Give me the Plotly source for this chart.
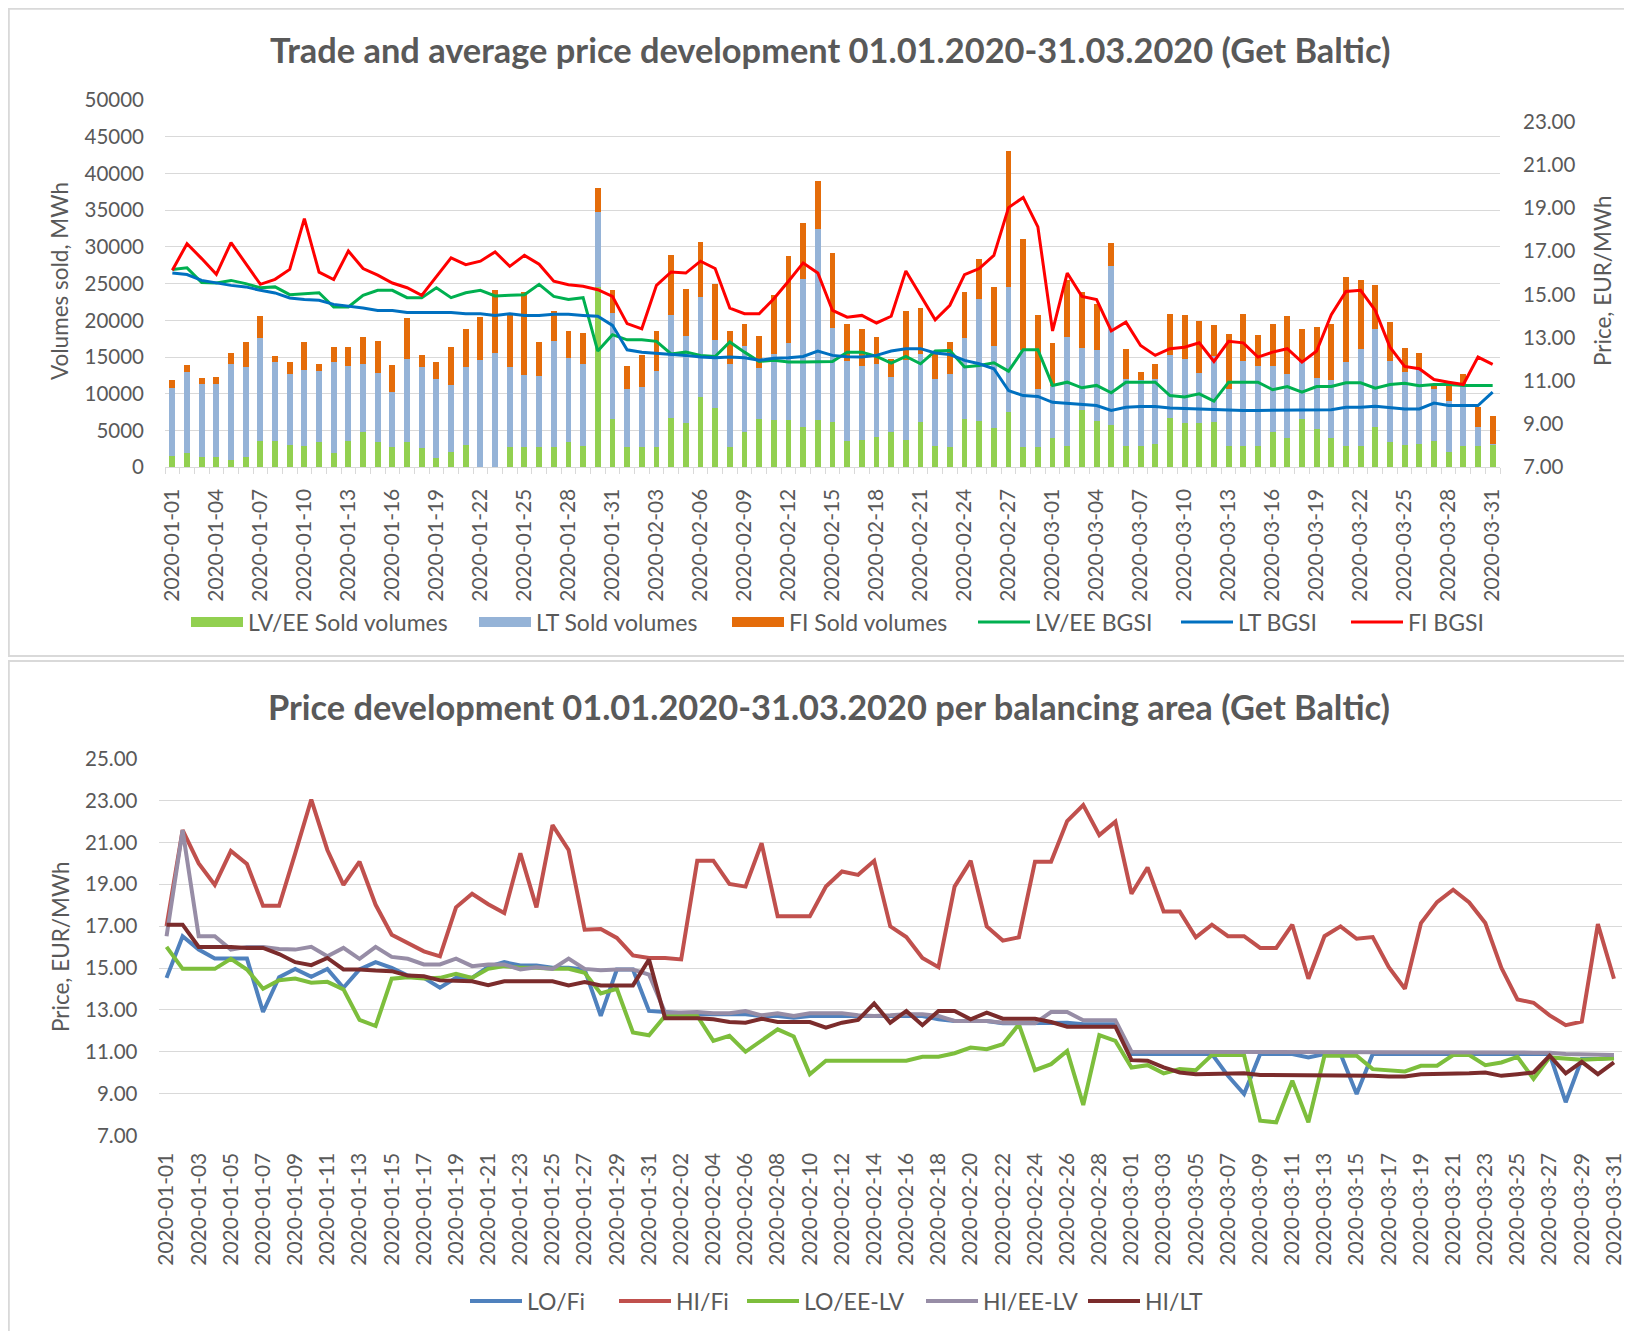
import plotly.graph_objects as go
import pandas as pd

# ---------------- data ----------------
DATES = [d.strftime("%Y-%m-%d") for d in pd.date_range("2020-01-01", "2020-03-31")]

LVEE_SOLD = [1590, 1910, 1450, 1450, 1000, 1450, 3550, 3550, 3050, 2910,
             3410, 1910, 3550, 4860, 3410, 2730, 3410, 2590, 1270, 2090,
             3050, 0, 0, 2730, 2730, 2730, 2730, 3410, 2910, 24550,
             6640, 2730, 2730, 2730, 6770, 6000, 9550, 8090, 2730, 4860,
             6640, 6450, 6450, 5500, 6450, 6140, 3550, 3730, 4180, 4860,
             3730, 6140, 2910, 2730, 6640, 6320, 5320, 7590, 2730, 2730,
             4050, 2910, 7770, 6320, 5820, 2910, 2910, 3230, 6770, 6000,
             6000, 6140, 2910, 2910, 2910, 4860, 4050, 6640, 5180, 4050,
             2910, 2910, 5500, 3410, 3050, 3230, 3550, 2090, 2910, 2910,
             3050]
LT_SOLD = [9230, 11050, 9860, 9860, 13090, 12180, 14000, 10730, 9590, 10360,
           9730, 12360, 10230, 9230, 9410, 7500, 11360, 11050, 10730, 9090,
           10590, 14590, 15550, 10910, 9770, 9640, 14450, 11500, 11180, 10180,
           14410, 7950, 8140, 10410, 14000, 11820, 13640, 9270, 11360, 11680,
           6820, 8950, 10410, 20140, 26000, 12820, 10860, 10050, 9910, 7450,
           10860, 9270, 9090, 9910, 10910, 16550, 11230, 16910, 13180, 7950,
           6950, 14770, 8450, 9590, 21590, 9090, 8910, 8770, 8450, 8770,
           6820, 8950, 7770, 11500, 10860, 8910, 8590, 7640, 6950, 7770,
           11360, 13140, 13320, 11000, 9910, 10050, 7140, 7000, 8090, 2590,
           150]
FI_SOLD = [1000, 1000, 820, 1050, 1500, 3360, 3050, 820, 1640, 3730,
           950, 2090, 2590, 3590, 4360, 3730, 5500, 1590, 2270, 5180,
           5180, 5820, 8640, 7410, 11360, 4640, 4090, 3590, 4230, 3230,
           3140, 3090, 4360, 5360, 8140, 6500, 7500, 7590, 4410, 2910,
           4360, 8090, 11860, 7640, 6500, 10270, 5050, 5050, 3590, 2450,
           6680, 6320, 3410, 4360, 6270, 5500, 7950, 18500, 15230, 10090,
           5860, 7770, 7590, 6320, 3090, 4050, 1140, 2090, 5680, 6000,
           7140, 4230, 7500, 6500, 4230, 5680, 7950, 4550, 7000, 7680,
           11640, 9410, 6000, 5360, 3270, 2270, 680, 2270, 1640, 2680,
           3750]

LVEE_BGSI = [16.16, 16.23, 15.55, 15.53, 15.65, 15.50, 15.31, 15.35, 14.99, 15.04,
             15.08, 14.42, 14.42, 14.96, 15.19, 15.19, 14.85, 14.85, 15.31, 14.85,
             15.08, 15.19, 14.93, 14.96, 14.99, 15.47, 14.91, 14.77, 14.85, 12.38,
             13.14, 12.90, 12.90, 12.83, 12.25, 12.33, 12.18, 12.13, 12.80, 12.33,
             11.90, 11.95, 11.87, 11.87, 11.87, 11.90, 12.33, 12.33, 12.13, 11.82,
             12.13, 11.79, 12.38, 12.41, 11.64, 11.71, 11.84, 11.45, 12.44, 12.44,
             10.79, 10.94, 10.68, 10.79, 10.45, 10.94, 10.94, 10.94, 10.32, 10.25,
             10.40, 10.06, 10.94, 10.94, 10.94, 10.59, 10.74, 10.48, 10.74, 10.74,
             10.91, 10.91, 10.66, 10.83, 10.89, 10.77, 10.83, 10.83, 10.79, 10.79,
             10.79]
LT_BGSI = [15.99, 15.92, 15.65, 15.53, 15.42, 15.35, 15.19, 15.07, 14.84, 14.77,
           14.73, 14.54, 14.46, 14.37, 14.26, 14.26, 14.16, 14.16, 14.16, 14.16,
           14.11, 14.11, 14.03, 14.11, 14.03, 14.03, 14.08, 14.08, 14.03, 13.99,
           13.57, 12.44, 12.33, 12.29, 12.22, 12.18, 12.10, 12.07, 12.10, 12.07,
           11.95, 12.05, 12.07, 12.13, 12.38, 12.18, 12.12, 12.10, 12.18, 12.38,
           12.49, 12.49, 12.29, 12.22, 11.95, 11.79, 11.56, 10.55, 10.32, 10.28,
           10.01, 9.97, 9.91, 9.86, 9.63, 9.78, 9.81, 9.81, 9.75, 9.72,
           9.69, 9.67, 9.63, 9.63, 9.63, 9.63, 9.63, 9.63, 9.63, 9.66,
           9.78, 9.78, 9.83, 9.75, 9.70, 9.70, 9.97, 9.86, 9.86, 9.86,
           10.48]
FI_BGSI = [16.12, 17.35, 16.66, 15.93, 17.40, 16.43, 15.47, 15.70, 16.16, 18.51,
           16.03, 15.69, 17.01, 16.20, 15.89, 15.53, 15.31, 14.96, 15.81, 16.69,
           16.38, 16.54, 16.97, 16.30, 16.81, 16.40, 15.61, 15.45, 15.38, 15.22,
           14.91, 13.65, 13.41, 15.42, 16.04, 15.99, 16.54, 16.20, 14.37, 14.11,
           14.11, 14.80, 15.61, 16.46, 15.99, 14.26, 13.95, 14.03, 13.68, 13.99,
           16.09, 14.96, 13.83, 14.50, 15.92, 16.20, 16.81, 19.02, 19.49, 18.13,
           13.31, 15.99, 14.91, 14.76, 13.31, 13.72, 12.64, 12.18, 12.49, 12.56,
           12.76, 11.90, 12.83, 12.76, 12.10, 12.33, 12.49, 11.87, 12.38, 14.06,
           15.14, 15.19, 14.26, 12.56, 11.67, 11.56, 11.06, 10.94, 10.83, 12.10,
           11.76]

LO_FI = [14.53, 16.52, 15.88, 15.45, 15.45, 15.45, 12.90, 14.56, 14.96, 14.58,
         14.96, 14.06, 14.93, 15.28, 15.01, 14.64, 14.53, 14.06, 14.53, 14.53,
         15.06, 15.28, 15.12, 15.12, 15.01, 15.01, 14.93, 12.71, 14.93, 14.93,
         12.95, 12.90, 12.84, 12.79, 12.79, 12.79, 12.79, 12.71, 12.71, 12.63,
         12.71, 12.71, 12.71, 12.71, 12.71, 12.71, 12.74, 12.71, 12.55, 12.47,
         12.47, 12.47, 12.36, 12.36, 12.36, 12.36, 12.39, 12.31, 12.31, 12.31,
         10.89, 10.89, 10.89, 10.89, 10.89, 10.89, 9.85, 8.98, 10.89, 10.89,
         10.89, 10.73, 10.89, 10.89, 8.98, 10.89, 10.89, 10.89, 10.89, 10.89,
         10.89, 10.89, 10.89, 10.89, 10.89, 10.89, 10.89, 8.59, 10.65, 10.65,
         10.73]
HI_FI = [17.00, 21.59, 20.00, 18.97, 20.59, 19.97, 17.97, 17.97, 20.48, 23.05,
         20.64, 18.97, 20.08, 18.02, 16.59, 16.17, 15.80, 15.56, 17.90, 18.55,
         18.05, 17.63, 20.48, 17.90, 21.83, 20.64, 16.83, 16.86, 16.44, 15.60,
         15.48, 15.48, 15.41, 20.13, 20.13, 19.02, 18.89, 20.96, 17.47, 17.47,
         17.47, 18.89, 19.61, 19.45, 20.12, 16.99, 16.48, 15.48, 15.04, 18.89,
         20.12, 16.99, 16.31, 16.47, 20.08, 20.08, 22.02, 22.78, 21.35, 21.99,
         18.55, 19.80, 17.70, 17.70, 16.47, 17.07, 16.52, 16.52, 15.96, 15.96,
         17.07, 14.49, 16.52, 16.99, 16.40, 16.48, 15.04, 14.01, 17.15, 18.15,
         18.74, 18.13, 17.15, 15.01, 13.50, 13.34, 12.74, 12.27, 12.44, 17.10,
         14.49]
LO_EELV = [16.01, 14.96, 14.96, 14.96, 15.44, 14.93, 14.01, 14.42, 14.50, 14.30,
           14.34, 13.98, 12.52, 12.23, 14.49, 14.56, 14.50, 14.53, 14.72, 14.53,
           14.96, 15.09, 15.01, 15.01, 14.96, 14.96, 14.77, 13.79, 14.01, 11.92,
           11.79, 12.71, 12.71, 12.71, 11.52, 11.76, 11.00, 11.52, 12.07, 11.73,
           9.93, 10.57, 10.57, 10.57, 10.57, 10.57, 10.57, 10.76, 10.76, 10.93,
           11.20, 11.12, 11.36, 12.31, 10.12, 10.41, 11.04, 8.46, 11.79, 11.52,
           10.25, 10.36, 9.97, 10.17, 10.12, 10.84, 10.84, 10.84, 7.71, 7.63,
           9.62, 7.63, 10.81, 10.81, 10.81, 10.17, 10.12, 10.06, 10.33, 10.33,
           10.84, 10.84, 10.36, 10.49, 10.76, 9.70, 10.73, 10.68, 10.62, 10.65,
           10.68]
HI_EELV = [16.52, 21.59, 16.52, 16.52, 15.88, 16.01, 16.01, 15.91, 15.88, 16.01,
           15.56, 15.96, 15.44, 16.01, 15.53, 15.44, 15.17, 15.17, 15.45, 15.09,
           15.17, 15.17, 14.93, 15.04, 14.96, 15.45, 14.96, 14.90, 14.93, 14.93,
           14.69, 12.87, 12.87, 12.90, 12.84, 12.84, 12.95, 12.74, 12.84, 12.71,
           12.84, 12.84, 12.84, 12.74, 12.71, 12.74, 12.79, 12.79, 12.71, 12.47,
           12.47, 12.47, 12.39, 12.36, 12.36, 12.90, 12.90, 12.50, 12.50, 12.50,
           11.00, 11.00, 11.00, 11.00, 11.00, 11.00, 11.00, 11.00, 11.00, 11.00,
           11.00, 11.00, 11.00, 11.00, 11.00, 11.00, 11.00, 11.00, 11.00, 11.00,
           11.00, 11.00, 11.00, 11.00, 10.97, 10.95, 10.95, 10.89, 10.87, 10.86,
           10.84]
HI_LT = [17.07, 17.07, 16.01, 16.01, 16.01, 15.96, 15.96, 15.67, 15.28, 15.14,
         15.48, 14.93, 14.93, 14.88, 14.85, 14.64, 14.61, 14.41, 14.41, 14.37,
         14.18, 14.37, 14.37, 14.37, 14.37, 14.17, 14.33, 14.17, 14.17, 14.17,
         15.41, 12.60, 12.60, 12.60, 12.55, 12.42, 12.39, 12.58, 12.42, 12.42,
         12.42, 12.15, 12.39, 12.52, 13.31, 12.39, 12.95, 12.27, 12.95, 12.95,
         12.55, 12.87, 12.58, 12.58, 12.58, 12.42, 12.20, 12.20, 12.20, 12.20,
         10.60, 10.57, 10.25, 10.01, 9.93, 9.93, 9.93, 9.97, 9.89, 9.89,
         9.89, 9.89, 9.89, 9.87, 9.87, 9.85, 9.82, 9.82, 9.93, 9.93,
         9.97, 9.97, 10.01, 9.85, 9.93, 10.01, 10.81, 9.97, 10.52, 9.93,
         10.49]

VOL_TICKS = list(range(0, 50001, 5000))
PRICE_TICKS_TOP = [7, 9, 11, 13, 15, 17, 19, 21, 23]
PRICE_TICKS_BOTTOM = [7, 9, 11, 13, 15, 17, 19, 21, 23, 25]

TITLE_TOP = "Trade and average price development 01.01.2020-31.03.2020 (Get Baltic)"
TITLE_BOTTOM = "Price development 01.01.2020-31.03.2020 per balancing area (Get Baltic)"

# ---------------- layout constants ----------------
W, H = 1616, 1323
FONT = "Lato"
TXT = "#595959"
GRID = "#d9d9d9"
idx = list(range(len(DATES)))

# left edge (px) of each legend key, in the order of the entries
TOP_KEY_X = [178, 466, 719, 965, 1168, 1338]
BOTTOM_KEY_X = [457, 606, 734, 913, 1075]
TOP_LEG_Y = 614
BOTTOM_LEG_Y = 1293


def px(x):
    return x / W


def py(y):
    return 1 - y / H


fig = go.Figure()
legend_names = []


def next_legend():
    n = len(legend_names) + 1
    name = "legend" if n == 1 else "legend%d" % n
    legend_names.append(name)
    return name


# top chart stacked bars (legend shown through wide swatch entries)
bars = [("LV/EE Sold volumes", LVEE_SOLD, "#92D050"),
        ("LT Sold volumes", LT_SOLD, "#95B3D7"),
        ("FI Sold volumes", FI_SOLD, "#E46C0A")]
for name, vals, col in bars:
    fig.add_trace(go.Bar(x=idx, y=vals, name=name, marker_color=col, marker_line_width=0,
                         xaxis="x", yaxis="y", showlegend=False, legendgroup=name))
for name, vals, col in bars:
    fig.add_trace(go.Scatter(x=[None], y=[None], name=name, mode="lines",
                             line=dict(color=col, width=11), xaxis="x", yaxis="y",
                             legend=next_legend(), legendgroup=name, hoverinfo="skip"))

tops = [("LV/EE BGSI", LVEE_BGSI, "#00B050"), ("LT BGSI", LT_BGSI, "#0070C0"),
        ("FI BGSI", FI_BGSI, "#FF0000")]
for name, vals, col in tops:
    fig.add_trace(go.Scatter(x=idx, y=vals, name=name, mode="lines",
                             line=dict(color=col, width=3), xaxis="x", yaxis="y2",
                             legend=next_legend()))

bottom = [("LO/Fi", LO_FI, "#4F81BD"), ("HI/Fi", HI_FI, "#C0504D"),
          ("LO/EE-LV", LO_EELV, "#7DBE3C"), ("HI/EE-LV", HI_EELV, "#978DA6"),
          ("HI/LT", HI_LT, "#7B2C2C")]
for name, vals, col in bottom:
    fig.add_trace(go.Scatter(x=idx, y=vals, name=name, mode="lines",
                             line=dict(color=col, width=4), xaxis="x2", yaxis="y3",
                             legend=next_legend()))

ytickfont = dict(family=FONT, size=20.5, color=TXT)
xtickfont = dict(family=FONT, size=21, color=TXT)
legfont = dict(family=FONT, size=23, color=TXT)

legend_layout = {}
positions = [(x, TOP_LEG_Y) for x in TOP_KEY_X] + [(x, BOTTOM_LEG_Y) for x in BOTTOM_KEY_X]
for lname, (lx, ly) in zip(legend_names, positions):
    legend_layout[lname] = dict(orientation="h", x=px(lx), y=py(ly), xanchor="left",
                                yanchor="middle", font=legfont, bgcolor="rgba(0,0,0,0)",
                                borderwidth=0, itemwidth=52)

fig.update_layout(
    width=W, height=H,
    margin=dict(l=0, r=0, t=0, b=0, pad=0, autoexpand=False),
    paper_bgcolor="white", plot_bgcolor="white",
    barmode="stack", bargap=0.6,
    font=dict(family=FONT, color=TXT),
    xaxis=dict(domain=[px(157), px(1492)], anchor="y", range=[-0.5, len(DATES) - 0.5],
               tickmode="array", tickvals=idx[::3], ticktext=DATES[::3], tickangle=-90,
               tickfont=xtickfont, showgrid=False, zeroline=False, automargin=False,
               showline=True, linecolor=GRID, linewidth=1, ticks="",
               ticklabelstandoff=12, ticklabeloverflow="allow",
               minor=dict(ticks="outside", tickmode="linear", tick0=-0.5, dtick=1,
                          ticklen=6, tickcolor=GRID, tickwidth=1, showgrid=False)),
    yaxis=dict(domain=[py(459.3), py(92)], anchor="x", range=[0, 50000],
               tickmode="array", tickvals=VOL_TICKS, tickformat="d", tickfont=ytickfont,
               showgrid=True, gridcolor=GRID, gridwidth=1, zeroline=False, automargin=False,
               ticklabelstandoff=20),
    yaxis2=dict(overlaying="y", side="right", anchor="x", range=[7, 24],
                tickmode="array", tickvals=PRICE_TICKS_TOP, tickformat=".2f", automargin=False,
                tickfont=ytickfont, showgrid=False, zeroline=False, ticklabelstandoff=22),
    xaxis2=dict(domain=[px(150.5), px(1614)], anchor="y3", range=[-0.5, len(DATES) - 0.5],
                tickmode="array", tickvals=idx[::2], ticktext=DATES[::2], tickangle=-90,
                tickfont=xtickfont, showgrid=False, zeroline=False, showline=False,
                automargin=False, ticks="", ticklabelstandoff=12, ticklabeloverflow="allow"),
    yaxis3=dict(domain=[py(1127.5), py(750.7)], anchor="x2", range=[7, 25],
                tickmode="array", tickvals=PRICE_TICKS_BOTTOM, tickformat=".2f",
                tickfont=ytickfont, showgrid=True, gridcolor=GRID, gridwidth=1,
                zeroline=False, automargin=False, ticklabelstandoff=20),
    showlegend=True,
    shapes=[
        dict(type="rect", xref="paper", yref="paper", x0=0.0005, x1=1.01,
             y0=py(648), y1=0.9995, line=dict(color=GRID, width=2), fillcolor="rgba(0,0,0,0)",
             layer="below"),
        dict(type="rect", xref="paper", yref="paper", x0=0.0005, x1=1.01,
             y0=-0.01, y1=py(653), line=dict(color=GRID, width=2), fillcolor="rgba(0,0,0,0)",
             layer="below"),
    ],
    annotations=[
        dict(text="<b>" + TITLE_TOP + "</b>", x=px(822), y=py(41), xref="paper", yref="paper",
             showarrow=False, xanchor="center", yanchor="middle",
             font=dict(family=FONT, size=34.4, color=TXT)),
        dict(text="<b>" + TITLE_BOTTOM + "</b>", x=px(821), y=py(698), xref="paper", yref="paper",
             showarrow=False, xanchor="center", yanchor="middle",
             font=dict(family=FONT, size=34.4, color=TXT)),
        dict(text="Volumes sold, MWh", x=px(52), y=py(273), xref="paper", yref="paper",
             showarrow=False, textangle=-90, xanchor="center", yanchor="middle",
             font=dict(family=FONT, size=22.5, color=TXT)),
        dict(text="Price, EUR/MWh", x=px(1595), y=py(273), xref="paper", yref="paper",
             showarrow=False, textangle=-90, xanchor="center", yanchor="middle",
             font=dict(family=FONT, size=22.5, color=TXT)),
        dict(text="Price, EUR/MWh", x=px(52), y=py(939), xref="paper", yref="paper",
             showarrow=False, textangle=-90, xanchor="center", yanchor="middle",
             font=dict(family=FONT, size=22.5, color=TXT)),
    ],
    **legend_layout,
)

fig.write_html("out.html")
